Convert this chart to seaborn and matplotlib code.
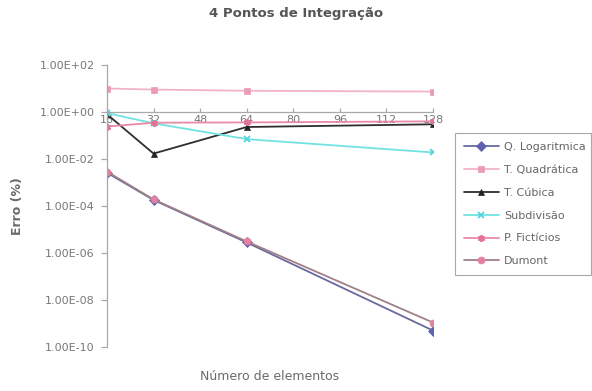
import matplotlib
matplotlib.use("Agg")
import matplotlib.pyplot as plt
from matplotlib.ticker import FixedLocator, FuncFormatter, NullLocator
import pandas as pd
import seaborn as sns

# Number of elements in the mesh
elementos = [16, 32, 64, 128]

# Relative error (%) of each integration scheme
q_logaritmica = [2.6e-3, 1.8e-4, 2.8e-6, 5.0e-10]
t_quadratica = [10.0, 9.0, 8.0, 7.4]
t_cubica = [0.8, 0.017, 0.23, 0.3]
subdivisao = [0.9, 0.33, 0.07, 0.019]
p_ficticios = [0.24, 0.35, 0.36, 0.4]
dumont = [2.9e-3, 1.9e-4, 3.1e-6, 1.1e-9]

series_nomes = ["Q. Logaritmica", "T. Quadrática", "T. Cúbica",
                "Subdivisão", "P. Fictícios", "Dumont"]
series_valores = [q_logaritmica, t_quadratica, t_cubica,
                  subdivisao, p_ficticios, dumont]

x_ticks = [16, 32, 48, 64, 80, 96, 112, 128]
y_ticks = [1e2, 1e0, 1e-2, 1e-4, 1e-6, 1e-8, 1e-10]

linhas = []
for nome, valores in zip(series_nomes, series_valores):
    for n, v in zip(elementos, valores):
        linhas.append({"Elementos": n, "Erro": v, "Série": nome})
df = pd.DataFrame(linhas)

cor_linha = {
    "Q. Logaritmica": "#6a6a9e",
    "T. Quadrática": "#f2b3c9",
    "T. Cúbica": "#2e2e2e",
    "Subdivisão": "#72e2e2",
    "P. Fictícios": "#ea8aa8",
    "Dumont": "#a08088",
}
cor_marcador = {
    "Q. Logaritmica": "#6060b0",
    "T. Quadrática": "#ec9ab8",
    "T. Cúbica": "#222222",
    "Subdivisão": "#52d4da",
    "P. Fictícios": "#e07595",
    "Dumont": "#e6809f",
}
# Filled shapes go through seaborn; the line-art ones are swapped in afterwards
marcadores = {
    "Q. Logaritmica": "D",
    "T. Quadrática": "s",
    "T. Cúbica": "^",
    "Subdivisão": "o",
    "P. Fictícios": "o",
    "Dumont": "o",
}
marcadores_traco = {
    "Subdivisão": "x",
    "P. Fictícios": (6, 2, 0),
}

sns.set_style("white")
plt.rcParams["font.family"] = ["DejaVu Sans"]

fig = plt.figure(figsize=(5.92, 3.91), dpi=100)
ax = fig.add_axes([107 / 592, 44 / 391, 326 / 592, 282 / 391])

sns.lineplot(data=df, x="Elementos", y="Erro", hue="Série", style="Série",
             hue_order=series_nomes, style_order=series_nomes,
             palette=cor_linha, markers=marcadores, dashes=False,
             markersize=5, linewidth=1.3, legend=False, ax=ax)

for linha, nome in zip(ax.lines, series_nomes):
    if nome in marcadores_traco:
        linha.set_marker(marcadores_traco[nome])
        linha.set_markeredgewidth(1.3)
    else:
        linha.set_markeredgewidth(0.5)
    linha.set_markerfacecolor(cor_marcador[nome])
    linha.set_markeredgecolor(cor_marcador[nome])

ax.set_yscale("log")
ax.set_ylim(1e-10, 1e2)
ax.set_xlim(16, 128)

ax.yaxis.set_major_locator(FixedLocator(y_ticks))
ax.yaxis.set_minor_locator(NullLocator())
ax.yaxis.set_major_formatter(FuncFormatter(lambda v, p: f"{v:.2E}"))
ax.xaxis.set_major_locator(FixedLocator(x_ticks))
ax.xaxis.set_minor_locator(NullLocator())

# The category axis crosses the value axis at 1
ax.spines["bottom"].set_position(("data", 1))
ax.spines["top"].set_visible(False)
ax.spines["right"].set_visible(False)
for s in ("left", "bottom"):
    ax.spines[s].set_color("#a8a8a8")
    ax.spines[s].set_linewidth(0.9)

ax.tick_params(axis="y", direction="out", length=4, width=0.9, color="#a8a8a8",
               labelsize=8, labelcolor="#777777", pad=5, left=True)
ax.tick_params(axis="x", direction="in", length=3, width=0.9, color="#a8a8a8",
               labelsize=8, labelcolor="#777777", pad=2, bottom=True)

ax.set_xlabel("Número de elementos", fontsize=9, color="#6a6a6a")
ax.xaxis.set_label_coords(0.5, -0.103)
ax.xaxis.label.set_verticalalignment("center")
ax.set_ylabel("Erro (%)", fontsize=9, fontweight="bold", color="#6a6a6a")
ax.yaxis.set_label_coords(-0.276, 0.5)
ax.yaxis.label.set_verticalalignment("center")

fig.text(296 / 592, 1 - 14 / 391, "4 Pontos de Integração", ha="center",
         va="center", fontsize=9.5, fontweight="bold", color="#555555")

leg = ax.legend(ax.lines[:len(series_nomes)], series_nomes,
                loc="upper left", mode="expand",
                bbox_to_anchor=(455 / 592, 1 - 282 / 391, 136 / 592, 149 / 391),
                bbox_transform=fig.transFigure, borderaxespad=0,
                fontsize=8, labelcolor="#666666", frameon=True, fancybox=False,
                framealpha=1, edgecolor="#a8a8a8", handlelength=3.15,
                handletextpad=0.45, labelspacing=1.16, borderpad=0.8)
leg.get_frame().set_linewidth(0.8)

fig.savefig("out.png", dpi=100, facecolor="white")
